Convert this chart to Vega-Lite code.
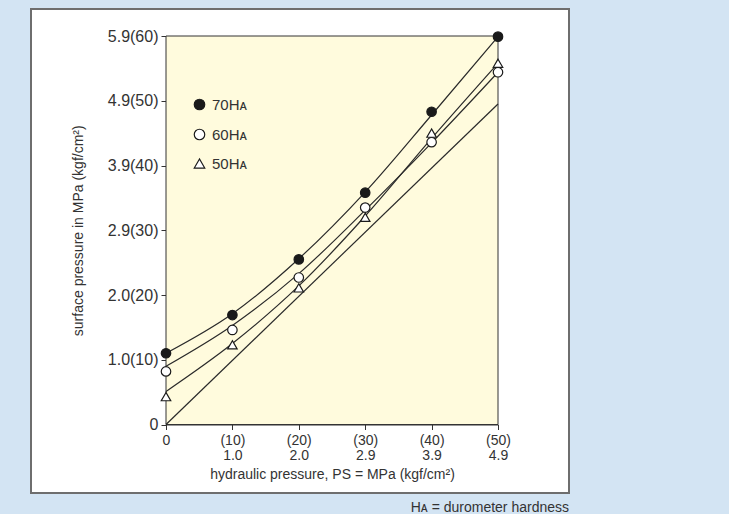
{
  "$schema": "https://vega.github.io/schema/vega-lite/v6.json",
  "width": 538,
  "height": 484,
  "autosize": {"type": "none"},
  "padding": {"left": 31, "top": 9, "right": 160, "bottom": 21},
  "background": "#d3e4f3",
  "view": {"fill": "white", "stroke": "#6e6e6e", "strokeWidth": 2},
  "config": {"font": "Liberation Sans"},
  "title": {"text": "Hᴀ = durometer hardness", "orient": "bottom", "anchor": "end", "fontSize": 14, "fontWeight": "normal", "color": "#333333", "offset": 8},
  "datasets": {
    "frame": [{"name": "plot"}],
    "points": [
      {"series": "70Hᴀ", "x": 0, "y": 11.0},
      {"series": "70Hᴀ", "x": 10, "y": 16.9},
      {"series": "70Hᴀ", "x": 20, "y": 25.5},
      {"series": "70Hᴀ", "x": 30, "y": 35.8},
      {"series": "70Hᴀ", "x": 40, "y": 48.3},
      {"series": "70Hᴀ", "x": 50, "y": 59.9},
      {"series": "60Hᴀ", "x": 0, "y": 8.2},
      {"series": "60Hᴀ", "x": 10, "y": 14.6},
      {"series": "60Hᴀ", "x": 20, "y": 22.7},
      {"series": "60Hᴀ", "x": 30, "y": 33.5},
      {"series": "60Hᴀ", "x": 40, "y": 43.6},
      {"series": "60Hᴀ", "x": 50, "y": 54.4},
      {"series": "50Hᴀ", "x": 0, "y": 4.3},
      {"series": "50Hᴀ", "x": 10, "y": 12.3},
      {"series": "50Hᴀ", "x": 20, "y": 21.1},
      {"series": "50Hᴀ", "x": 30, "y": 32.0},
      {"series": "50Hᴀ", "x": 40, "y": 45.0},
      {"series": "50Hᴀ", "x": 50, "y": 55.8}
    ],
    "curves": [
      {"curve": "70", "x": 0, "y": 11.0},
      {"curve": "70", "x": 10, "y": 17.1},
      {"curve": "70", "x": 20, "y": 25.6},
      {"curve": "70", "x": 30, "y": 35.9},
      {"curve": "70", "x": 40, "y": 47.8},
      {"curve": "70", "x": 50, "y": 59.9},
      {"curve": "60", "x": 0, "y": 9.0},
      {"curve": "60", "x": 10, "y": 15.3},
      {"curve": "60", "x": 20, "y": 23.3},
      {"curve": "60", "x": 30, "y": 33.1},
      {"curve": "60", "x": 40, "y": 43.5},
      {"curve": "60", "x": 50, "y": 54.4},
      {"curve": "50", "x": 0, "y": 5.1},
      {"curve": "50", "x": 10, "y": 12.5},
      {"curve": "50", "x": 20, "y": 21.4},
      {"curve": "50", "x": 30, "y": 32.2},
      {"curve": "50", "x": 40, "y": 44.2},
      {"curve": "50", "x": 50, "y": 55.8},
      {"curve": "ref", "x": 0, "y": 0},
      {"curve": "ref", "x": 50, "y": 49.5}
    ]
  },
  "layer": [
    {
      "data": {"name": "frame"},
      "mark": {"type": "rect", "fill": "#fffbdd", "stroke": "#333333", "strokeWidth": 1},
      "encoding": {
        "x": {
          "datum": 0, "type": "quantitative",
          "scale": {"domain": [0, 50], "range": [135, 467], "nice": false, "zero": false},
          "axis": {
            "title": "hydraulic pressure, PS = MPa (kgf/cm²)",
            "values": [0, 10, 20, 30, 40, 50],
            "offset": -68.5,
            "grid": false,
            "domainColor": "#333333", "tickColor": "#333333", "tickSize": 5,
            "labelFontSize": 14, "labelColor": "#333333", "labelLineHeight": 15,
            "labelPadding": 4, "labelFlush": false, "labelOverlap": false,
            "labelExpr": "datum.value == 0 ? '0' : datum.value == 10 ? ['(10)', '1.0'] : datum.value == 20 ? ['(20)', '2.0'] : datum.value == 30 ? ['(30)', '2.9'] : datum.value == 40 ? ['(40)', '3.9'] : ['(50)', '4.9']",
            "titleFontSize": 14, "titleFontWeight": "normal", "titleColor": "#333333", "titlePadding": 5
          }
        },
        "x2": {"datum": 50},
        "y": {
          "datum": 0, "type": "quantitative",
          "scale": {"domain": [0, 60], "range": [415.5, 27], "nice": false, "zero": false},
          "axis": {
            "title": "surface pressure in MPa (kgf/cm²)",
            "values": [0, 10, 20, 30, 40, 50, 60],
            "offset": -135,
            "grid": false,
            "domainColor": "#333333", "tickColor": "#333333", "tickSize": 5,
            "labelFontSize": 16, "labelColor": "#333333", "labelPadding": 3,
            "labelOverlap": false, "labelFlush": false,
            "labelExpr": "datum.value == 0 ? '0' : datum.value == 10 ? '1.0(10)' : datum.value == 20 ? '2.0(20)' : datum.value == 30 ? '2.9(30)' : datum.value == 40 ? '3.9(40)' : datum.value == 50 ? '4.9(50)' : '5.9(60)'",
            "titleFontSize": 14, "titleFontWeight": "normal", "titleColor": "#333333", "titlePadding": 22
          }
        },
        "y2": {"datum": 60}
      }
    },
    {
      "data": {"name": "curves"},
      "mark": {"type": "line", "interpolate": "monotone", "color": "#2a2a2a", "strokeWidth": 1.2},
      "encoding": {
        "x": {"field": "x", "type": "quantitative"},
        "y": {"field": "y", "type": "quantitative"},
        "detail": {"field": "curve"}
      }
    },
    {
      "data": {"name": "points"},
      "mark": {"type": "point", "filled": true, "strokeWidth": 1.2, "size": 90, "opacity": 1},
      "encoding": {
        "x": {"field": "x", "type": "quantitative"},
        "y": {"field": "y", "type": "quantitative"},
        "shape": {
          "field": "series", "type": "nominal",
          "scale": {"domain": ["70Hᴀ", "60Hᴀ", "50Hᴀ"], "range": ["circle", "circle", "triangle-up"]},
          "legend": {
            "orient": "none", "legendX": 161, "legendY": 88, "title": null,
            "symbolSize": 110, "symbolStrokeWidth": 1.2,
            "labelFontSize": 15, "labelColor": "#333333", "labelOffset": 5, "rowPadding": 13, "padding": 0
          }
        },
        "fill": {
          "field": "series", "type": "nominal",
          "scale": {"domain": ["70Hᴀ", "60Hᴀ", "50Hᴀ"], "range": ["#1a1a1a", "#ffffff", "#ffffff"]},
          "legend": {
            "orient": "none", "legendX": 161, "legendY": 88, "title": null,
            "symbolSize": 110, "symbolStrokeWidth": 1.2,
            "labelFontSize": 15, "labelColor": "#333333", "labelOffset": 5, "rowPadding": 13, "padding": 0
          }
        },
        "stroke": {
          "field": "series", "type": "nominal",
          "scale": {"domain": ["70Hᴀ", "60Hᴀ", "50Hᴀ"], "range": ["#1a1a1a", "#1a1a1a", "#1a1a1a"]},
          "legend": {
            "orient": "none", "legendX": 161, "legendY": 88, "title": null,
            "symbolSize": 110, "symbolStrokeWidth": 1.2,
            "labelFontSize": 15, "labelColor": "#333333", "labelOffset": 5, "rowPadding": 13, "padding": 0
          }
        }
      }
    }
  ]
}
